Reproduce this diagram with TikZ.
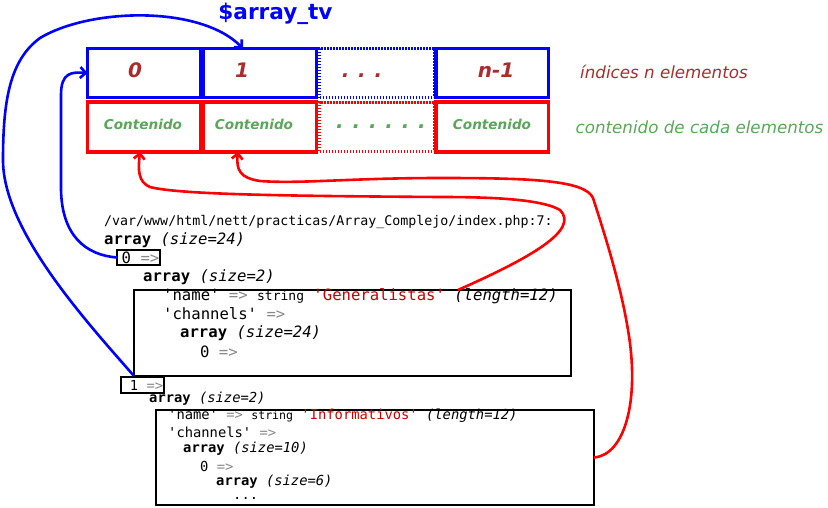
\documentclass[tikz,border=0pt]{standalone}
\usepackage{fontspec}
\setmainfont{DejaVu Sans}[ItalicFont={DejaVu Sans Oblique},BoldFont={DejaVu Sans Bold},BoldItalicFont={DejaVu Sans Bold Oblique}]
\newfontfamily\codefont{DejaVu Sans Mono}[ItalicFont={DejaVu Sans Mono Oblique},BoldFont={DejaVu Sans Mono Bold},BoldItalicFont={DejaVu Sans Mono Bold Oblique}]
\usetikzlibrary{arrows.meta}
\definecolor{idxbrown}{RGB}{170,45,45}
\definecolor{cgreen}{RGB}{90,166,90}
\definecolor{phpred}{RGB}{204,0,0}
\definecolor{phpgrey}{RGB}{136,136,136}
\newcommand{\sq}{\textquotesingle}
\newcommand{\ar}{\textcolor{phpgrey}{=>}}
\newcommand{\fsz}[1]{\fontsize{#1}{#1}\selectfont}
\tikzset{
  bluecell/.style={draw=blue,line width=3.8,minimum width=113,minimum height=49,inner sep=0,outer sep=0},
  redcell/.style={draw=red,line width=3.8,minimum width=113,minimum height=49.5,inner sep=0,outer sep=0},
  idx/.style={text=idxbrown,font=\bfseries\itshape\fsz{20},inner sep=0},
  cont/.style={text=cgreen,font=\bfseries\itshape\fsz{13.6},inner sep=0},
  legend/.style={font=\itshape\fsz{16.7},inner sep=0},
  codeA/.style={anchor=west,inner sep=0,font=\codefont\fsz{15.6}},
  codeB/.style={anchor=west,inner sep=0,font=\codefont\fsz{13.8}},
  phpbox/.style={draw=black,line width=1.6,inner sep=0,outer sep=0},
  bluecon/.style={draw=blue,line width=2.6,-{Straight Barb[length=5.5pt,width=11pt]}},
  redcon/.style={draw=red,line width=2.6,-{Straight Barb[length=5.5pt,width=11pt]}},
}
\begin{document}
\begin{tikzpicture}[x=1pt,y=-1pt]
\useasboundingbox (0,0) rectangle (828,507);
% title
\node[text=blue,font=\bfseries\fsz{21.6},inner sep=0] (title) at (275.5,14) {\$array\_tv};
% index row
\node[bluecell] (c0) at (144,73) {};
\node[bluecell] (c1) at (260,73) {};
\node[bluecell,line width=2.8,dash pattern=on 1.6pt off 1.4pt,minimum width=115] (cd) at (377,73) {};
\node[bluecell,minimum width=112.5] (cn) at (492.25,73) {};
% content row
\node[redcell] (d0) at (144,127) {};
\node[redcell] (d1) at (260,127) {};
\node[redcell,line width=2.8,dash pattern=on 1.6pt off 1.4pt,minimum width=115] (dd) at (377,127) {};
\node[redcell,minimum width=112.5] (dn) at (492.25,127) {};
% labels
\node[idx] (l0) at (135,70) {0};
\node[idx] (l1) at (242,70) {1};
\node[idx] (ld) at (362,76) {.\hspace{8.8pt}.\hspace{8.8pt}.};
\node[idx] (ln) at (496,70) {n-1};
\node[cont] (t0) at (143,124) {Contenido};
\node[cont] (t1) at (254,124) {Contenido};
\node[cont,font=\bfseries\itshape\fsz{20}] (td) at (381,127) {.\hspace{8.8pt}.\hspace{8.8pt}.\hspace{8.8pt}.\hspace{8.8pt}.\hspace{8.8pt}.};
\node[cont] (tn) at (492,124) {Contenido};
\node[legend,text=idxbrown] (leg1) at (664,72) {índices n elementos};
\node[legend,text=cgreen] (leg2) at (699.5,127) {contenido de cada elementos};
% php output, first block
\node[codeA,font=\codefont\fsz{13.3}] (path) at (104,222) {/var/www/html/nett/practicas/Array\_Complejo/index.php:7:};
\node[codeA] (a24) at (104,240) {\textbf{array} \textit{(size=24)}};
\node[phpbox,codeA,anchor=center,minimum width=43,minimum height=15.5] (k0) at (138.5,257.5) {\hspace*{4pt}0 \ar};
\node[codeA] (a2) at (143,277) {\textbf{array} \textit{(size=2)}};
\node[phpbox,minimum width=437,minimum height=86] (g0) at (352.5,333) {};
\node[codeA] (n0) at (163,296) {\sq name\sq{} \ar{} {\fsz{13}string} \textcolor{phpred}{\sq Generalistas\sq} \textit{(length=12)}};
\node[codeA] (ch0) at (163,314) {\sq channels\sq{} \ar};
\node[codeA] (a24b) at (180,333) {\textbf{array} \textit{(size=24)}};
\node[codeA] (z0) at (200,352) {0 \ar};
% second block
\node[phpbox,codeB,anchor=center,minimum width=43,minimum height=16] (k1) at (142.5,385) {\hspace*{8pt}1 \ar};
\node[codeB] (b2) at (149,399) {\textbf{array} \textit{(size=2)}};
\node[phpbox,minimum width=438,minimum height=95] (g1) at (375,457.5) {};
\node[codeB] (n1) at (168,416) {\sq name\sq{} \ar{} {\fsz{11.6}string} \textcolor{phpred}{\sq Informativos\sq} \textit{(length=12)}};
\node[codeB] (ch1) at (168,432) {\sq channels\sq{} \ar};
\node[codeB] (a10) at (183,449) {\textbf{array} \textit{(size=10)}};
\node[codeB] (z1) at (200,466) {0 \ar};
\node[codeB] (a6) at (216,482) {\textbf{array} \textit{(size=6)}};
\node[codeB] (dots) at (233,498) {...};
% connectors
\draw[bluecon] (k0.west) .. controls (85,255) and (62,235) .. (61,190) -- (61,95)
  .. controls (61,72) and (72,72) .. (c0.west);
\draw[bluecon] (g0.south west) .. controls (85,320) and (3,230) .. (3,160)
  .. controls (3,100) and (10,60) .. (40,38)
  .. controls (90,8) and (200,5) .. ([xshift=-17]c1.north);
\draw[redcon] ([xshift=105.5]g0.north) .. controls (530,258) and (580,230) .. (560,210)
  .. controls (540,198) and (480,197) .. (440,197)
  .. controls (300,196) and (180,195) .. (150,187)
  .. controls (138,182) and (138,170) .. ([xshift=-4]d0.south);
\draw[redcon] (g1.east) .. controls (625,455) and (640,400) .. (628,330)
  .. controls (620,280) and (600,220) .. (593,198)
  .. controls (585,180) and (530,178) .. (440,178)
  .. controls (350,178) and (300,184) .. (260,181)
  .. controls (240,178) and (236,170) .. ([xshift=-22]d1.south);
\end{tikzpicture}
\end{document}
